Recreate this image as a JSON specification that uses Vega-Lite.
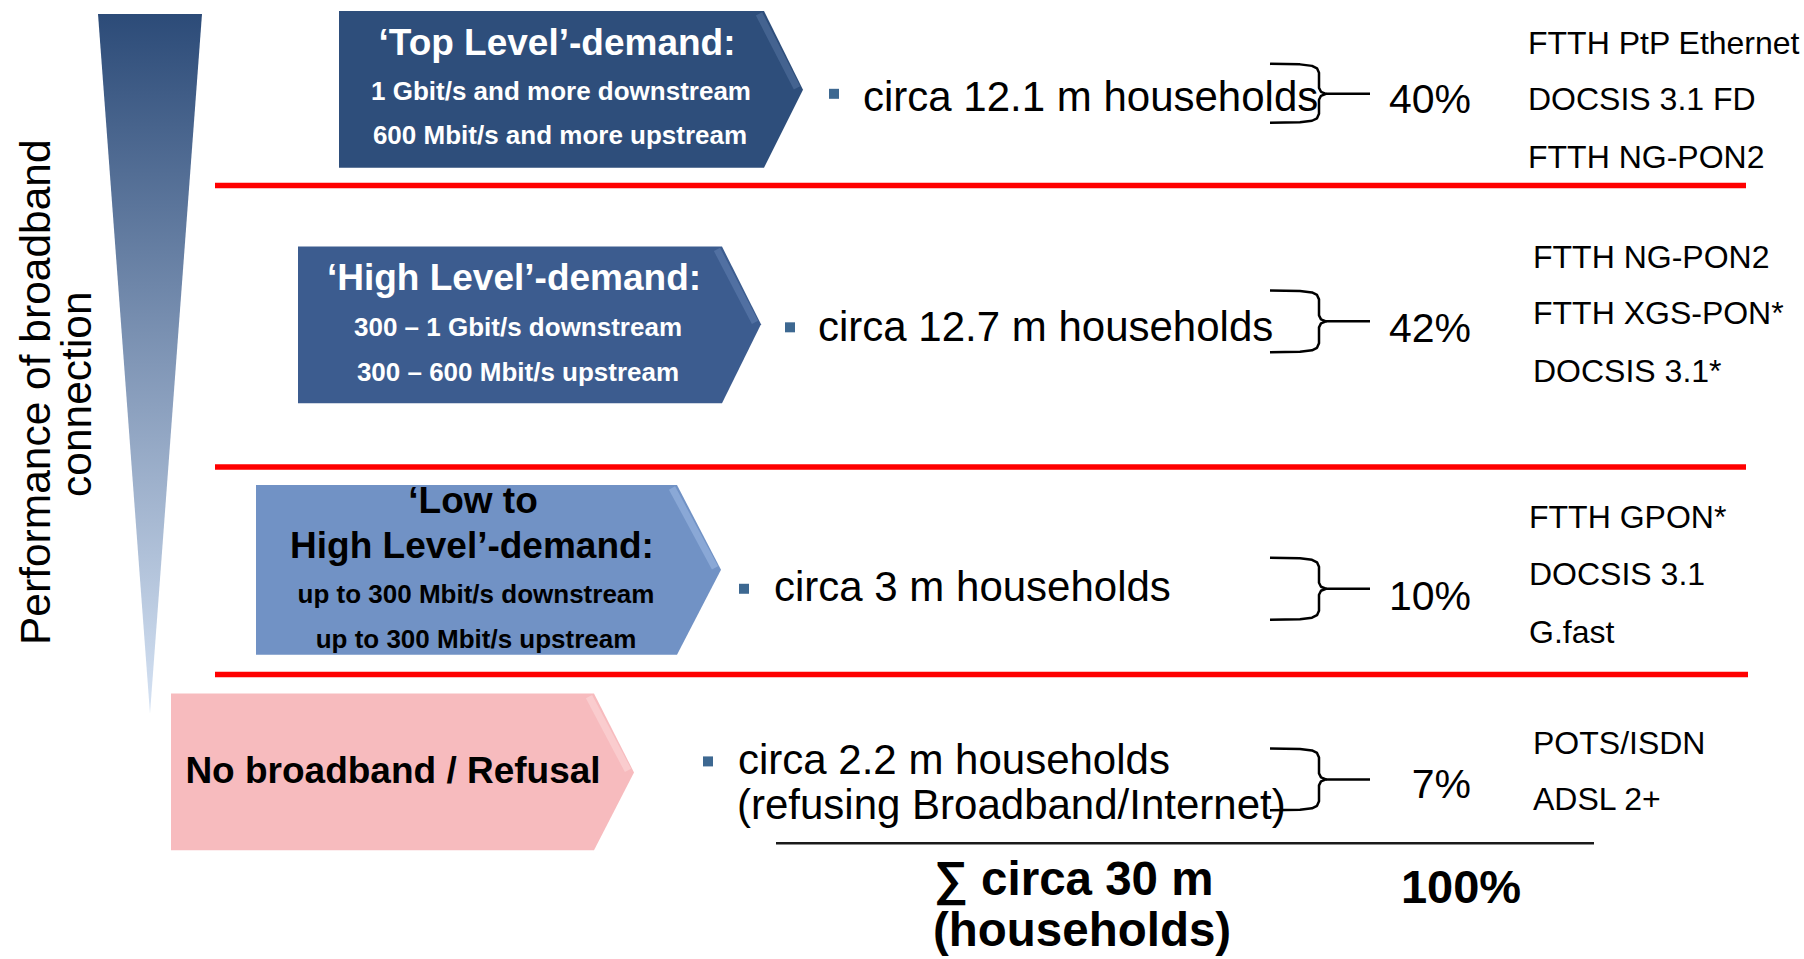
{
  "$schema": "https://vega.github.io/schema/vega-lite/v6.json",
  "width": 1804,
  "height": 959,
  "autosize": {"type": "fit", "contains": "padding"},
  "padding": 0,
  "background": "white",
  "config": {"view": {"stroke": null}, "text": {"font": "Liberation Sans"}},
  "datasets": {
    "wedge": [
      {"y": 12, "x": 98, "x2": 202},
      {"y": 713, "x": 150, "x2": 150}
    ],
    "arrows": [
      {"box": "top", "x": 339, "top": 9, "bottom": 166},
      {"box": "top", "x": 764, "top": 9, "bottom": 166},
      {"box": "top", "x": 803, "top": 88, "bottom": 88},
      {"box": "high", "x": 298, "top": 245, "bottom": 402},
      {"box": "high", "x": 722, "top": 245, "bottom": 402},
      {"box": "high", "x": 761, "top": 323, "bottom": 323},
      {"box": "low", "x": 256, "top": 484, "bottom": 654},
      {"box": "low", "x": 677, "top": 484, "bottom": 654},
      {"box": "low", "x": 721, "top": 569, "bottom": 569},
      {"box": "none", "x": 171, "top": 693, "bottom": 850},
      {"box": "none", "x": 594, "top": 693, "bottom": 850},
      {"box": "none", "x": 634, "top": 772, "bottom": 772}
    ],
    "sheen": [
      {"box": "top", "i": 0, "x": 759, "y": 12},
      {"box": "top", "i": 1, "x": 797, "y": 86},
      {"box": "high", "i": 0, "x": 717, "y": 248},
      {"box": "high", "i": 1, "x": 755, "y": 321},
      {"box": "low", "i": 0, "x": 672, "y": 487},
      {"box": "low", "i": 1, "x": 715, "y": 567},
      {"box": "none", "i": 0, "x": 589, "y": 696},
      {"box": "none", "i": 1, "x": 628, "y": 770}
    ],
    "separators": [
      {"kind": "red", "x": 215, "x2": 1746, "y": 184},
      {"kind": "red", "x": 215, "x2": 1746, "y": 466},
      {"kind": "red", "x": 215, "x2": 1748, "y": 674},
      {"kind": "sum", "x": 776, "x2": 1594, "y": 843},
      {"kind": "brace", "x": 1326, "x2": 1370, "y": 92},
      {"kind": "brace", "x": 1326, "x2": 1370, "y": 320},
      {"kind": "brace", "x": 1326, "x2": 1370, "y": 588},
      {"kind": "brace", "x": 1326, "x2": 1370, "y": 779}
    ],
    "braces": [
      {"b": 1, "i": 0, "x": 1270, "y": 62}, {"b": 1, "i": 1, "x": 1300, "y": 62.5}, {"b": 1, "i": 2, "x": 1312, "y": 64}, {"b": 1, "i": 3, "x": 1317, "y": 66.5}, {"b": 1, "i": 4, "x": 1319, "y": 71}, {"b": 1, "i": 5, "x": 1319, "y": 86}, {"b": 1, "i": 6, "x": 1321, "y": 90}, {"b": 1, "i": 7, "x": 1326, "y": 92}, {"b": 1, "i": 8, "x": 1321, "y": 94}, {"b": 1, "i": 9, "x": 1319, "y": 98}, {"b": 1, "i": 10, "x": 1319, "y": 112}, {"b": 1, "i": 11, "x": 1317, "y": 116.5}, {"b": 1, "i": 12, "x": 1312, "y": 119}, {"b": 1, "i": 13, "x": 1300, "y": 120.5}, {"b": 1, "i": 14, "x": 1270, "y": 121},
      {"b": 2, "i": 0, "x": 1270, "y": 289}, {"b": 2, "i": 1, "x": 1300, "y": 289.5}, {"b": 2, "i": 2, "x": 1312, "y": 291}, {"b": 2, "i": 3, "x": 1317, "y": 293.5}, {"b": 2, "i": 4, "x": 1319, "y": 298}, {"b": 2, "i": 5, "x": 1319, "y": 314}, {"b": 2, "i": 6, "x": 1321, "y": 318}, {"b": 2, "i": 7, "x": 1326, "y": 320}, {"b": 2, "i": 8, "x": 1321, "y": 322}, {"b": 2, "i": 9, "x": 1319, "y": 326}, {"b": 2, "i": 10, "x": 1319, "y": 342}, {"b": 2, "i": 11, "x": 1317, "y": 346.5}, {"b": 2, "i": 12, "x": 1312, "y": 349}, {"b": 2, "i": 13, "x": 1300, "y": 350.5}, {"b": 2, "i": 14, "x": 1270, "y": 351},
      {"b": 3, "i": 0, "x": 1270, "y": 557}, {"b": 3, "i": 1, "x": 1300, "y": 557.5}, {"b": 3, "i": 2, "x": 1312, "y": 559}, {"b": 3, "i": 3, "x": 1317, "y": 561.5}, {"b": 3, "i": 4, "x": 1319, "y": 566}, {"b": 3, "i": 5, "x": 1319, "y": 582}, {"b": 3, "i": 6, "x": 1321, "y": 586}, {"b": 3, "i": 7, "x": 1326, "y": 588}, {"b": 3, "i": 8, "x": 1321, "y": 590}, {"b": 3, "i": 9, "x": 1319, "y": 594}, {"b": 3, "i": 10, "x": 1319, "y": 610}, {"b": 3, "i": 11, "x": 1317, "y": 614.5}, {"b": 3, "i": 12, "x": 1312, "y": 617}, {"b": 3, "i": 13, "x": 1300, "y": 618.5}, {"b": 3, "i": 14, "x": 1270, "y": 619},
      {"b": 4, "i": 0, "x": 1270, "y": 748}, {"b": 4, "i": 1, "x": 1300, "y": 748.5}, {"b": 4, "i": 2, "x": 1312, "y": 750}, {"b": 4, "i": 3, "x": 1317, "y": 752.5}, {"b": 4, "i": 4, "x": 1319, "y": 757}, {"b": 4, "i": 5, "x": 1319, "y": 773}, {"b": 4, "i": 6, "x": 1321, "y": 777}, {"b": 4, "i": 7, "x": 1326, "y": 779}, {"b": 4, "i": 8, "x": 1321, "y": 781}, {"b": 4, "i": 9, "x": 1319, "y": 785}, {"b": 4, "i": 10, "x": 1319, "y": 801}, {"b": 4, "i": 11, "x": 1317, "y": 805.5}, {"b": 4, "i": 12, "x": 1312, "y": 808}, {"b": 4, "i": 13, "x": 1300, "y": 809.5}, {"b": 4, "i": 14, "x": 1270, "y": 810}
    ],
    "bullets": [
      {"x": 834, "y": 92},
      {"x": 790, "y": 326},
      {"x": 744, "y": 588},
      {"x": 708, "y": 761}
    ],
    "texts": [
      {"role": "titleW", "text": "‘Top Level’-demand:", "x": 557, "y": 53},
      {"role": "titleW", "text": "‘High Level’-demand:", "x": 514, "y": 289},
      {"role": "subW", "text": "1 Gbit/s and more downstream", "x": 561, "y": 98},
      {"role": "subW", "text": "600 Mbit/s and more upstream", "x": 560, "y": 142},
      {"role": "subW", "text": "300 – 1 Gbit/s downstream", "x": 518, "y": 335},
      {"role": "subW", "text": "300 – 600 Mbit/s upstream", "x": 518, "y": 380},
      {"role": "titleB", "text": "‘Low to", "x": 473, "y": 512},
      {"role": "titleB", "text": "High Level’-demand:", "x": 472, "y": 557},
      {"role": "titleB", "text": "No broadband / Refusal", "x": 393, "y": 783},
      {"role": "subB", "text": "up to 300 Mbit/s downstream", "x": 476, "y": 602},
      {"role": "subB", "text": "up to 300 Mbit/s upstream", "x": 476, "y": 647},
      {"role": "circa", "text": "circa 12.1 m households", "x": 863, "y": 109},
      {"role": "circa", "text": "circa 12.7 m households", "x": 818, "y": 340},
      {"role": "circa", "text": "circa 3 m households", "x": 774, "y": 600},
      {"role": "circa", "text": "circa 2.2 m households", "x": 738, "y": 774},
      {"role": "circa", "text": "(refusing Broadband/Internet)", "x": 737, "y": 819},
      {"role": "pct", "text": "40%", "x": 1471, "y": 111},
      {"role": "pct", "text": "42%", "x": 1471, "y": 341},
      {"role": "pct", "text": "10%", "x": 1471, "y": 609},
      {"role": "pct", "text": "7%", "x": 1471, "y": 798},
      {"role": "tech", "text": "FTTH PtP Ethernet", "x": 1528, "y": 52},
      {"role": "tech", "text": "DOCSIS 3.1 FD", "x": 1528, "y": 108},
      {"role": "tech", "text": "FTTH NG-PON2", "x": 1528, "y": 166},
      {"role": "tech", "text": "FTTH NG-PON2", "x": 1533, "y": 267},
      {"role": "tech", "text": "FTTH XGS-PON*", "x": 1533, "y": 323},
      {"role": "tech", "text": "DOCSIS 3.1*", "x": 1533, "y": 381},
      {"role": "tech", "text": "FTTH GPON*", "x": 1529, "y": 527},
      {"role": "tech", "text": "DOCSIS 3.1", "x": 1529, "y": 584},
      {"role": "tech", "text": "G.fast", "x": 1529, "y": 642},
      {"role": "tech", "text": "POTS/ISDN", "x": 1533, "y": 754},
      {"role": "tech", "text": "ADSL 2+", "x": 1533, "y": 810},
      {"role": "sum", "text": "∑ circa 30 m", "x": 934, "y": 895},
      {"role": "sum", "text": "(households)", "x": 933, "y": 946},
      {"role": "total", "text": "100%", "x": 1461, "y": 903},
      {"role": "side", "text": "Performance of broadband", "x": 50, "y": 391},
      {"role": "side", "text": "connection", "x": 91, "y": 393}
    ]
  },
  "layer": [
    {
      "data": {"name": "wedge"},
      "mark": {
        "type": "area",
        "orient": "horizontal",
        "fill": {
          "gradient": "linear",
          "x1": 0, "y1": 0, "x2": 0, "y2": 1,
          "stops": [
            {"offset": 0, "color": "#2C4B78"},
            {"offset": 0.5, "color": "#8197B7"},
            {"offset": 1, "color": "#D6E3F4"}
          ]
        }
      },
      "encoding": {
        "y": {"field": "y", "type": "quantitative", "scale": {"domain": [0, 959], "reverse": true, "nice": false, "zero": false}, "axis": null},
        "x": {"field": "x", "type": "quantitative", "scale": {"domain": [0, 1804], "nice": false, "zero": false}, "axis": null, "stack": null},
        "x2": {"field": "x2"}
      }
    },
    {
      "data": {"name": "arrows"},
      "mark": {"type": "area", "orient": "vertical"},
      "encoding": {
        "x": {"field": "x", "type": "quantitative", "scale": {"domain": [0, 1804], "nice": false, "zero": false}, "axis": null},
        "y": {"field": "top", "type": "quantitative", "scale": {"domain": [0, 959], "reverse": true, "nice": false, "zero": false}, "axis": null, "stack": null},
        "y2": {"field": "bottom"},
        "fill": {"field": "box", "type": "nominal", "scale": {"domain": ["top", "high", "low", "none"], "range": ["#2E4E7B", "#3C5C8F", "#7192C5", "#F7BBBE"]}, "legend": null},
        "detail": {"field": "box"}
      }
    },
    {
      "data": {"name": "sheen"},
      "mark": {"type": "line", "strokeWidth": 7, "opacity": 0.45, "strokeCap": "butt"},
      "encoding": {
        "x": {"field": "x", "type": "quantitative", "scale": {"domain": [0, 1804], "nice": false, "zero": false}, "axis": null},
        "y": {"field": "y", "type": "quantitative", "scale": {"domain": [0, 959], "reverse": true, "nice": false, "zero": false}, "axis": null},
        "order": {"field": "i"},
        "stroke": {"field": "box", "type": "nominal", "scale": {"domain": ["top", "high", "low", "none"], "range": ["#5F7EAA", "#6A89BA", "#A9C3EA", "#FDE2E3"]}, "legend": null},
        "detail": {"field": "box"}
      }
    },
    {
      "data": {"name": "separators"},
      "transform": [{"filter": "datum.kind === 'red'"}],
      "mark": {"type": "rule", "color": "#FF0000", "strokeWidth": 5.5},
      "encoding": {
        "x": {"field": "x", "type": "quantitative", "scale": {"domain": [0, 1804], "nice": false, "zero": false}, "axis": null},
        "x2": {"field": "x2"},
        "y": {"field": "y", "type": "quantitative", "scale": {"domain": [0, 959], "reverse": true, "nice": false, "zero": false}, "axis": null}
      }
    },
    {
      "data": {"name": "separators"},
      "transform": [{"filter": "datum.kind === 'sum'"}],
      "mark": {"type": "rule", "color": "#1A1A1A", "strokeWidth": 2.5},
      "encoding": {
        "x": {"field": "x", "type": "quantitative", "scale": {"domain": [0, 1804], "nice": false, "zero": false}, "axis": null},
        "x2": {"field": "x2"},
        "y": {"field": "y", "type": "quantitative", "scale": {"domain": [0, 959], "reverse": true, "nice": false, "zero": false}, "axis": null}
      }
    },
    {
      "data": {"name": "separators"},
      "transform": [{"filter": "datum.kind === 'brace'"}],
      "mark": {"type": "rule", "color": "#000000", "strokeWidth": 2.5},
      "encoding": {
        "x": {"field": "x", "type": "quantitative", "scale": {"domain": [0, 1804], "nice": false, "zero": false}, "axis": null},
        "x2": {"field": "x2"},
        "y": {"field": "y", "type": "quantitative", "scale": {"domain": [0, 959], "reverse": true, "nice": false, "zero": false}, "axis": null}
      }
    },
    {
      "data": {"name": "braces"},
      "mark": {"type": "line", "color": "#000000", "strokeWidth": 2.5, "strokeJoin": "round"},
      "encoding": {
        "x": {"field": "x", "type": "quantitative", "scale": {"domain": [0, 1804], "nice": false, "zero": false}, "axis": null},
        "y": {"field": "y", "type": "quantitative", "scale": {"domain": [0, 959], "reverse": true, "nice": false, "zero": false}, "axis": null},
        "order": {"field": "i"},
        "detail": {"field": "b"}
      }
    },
    {
      "data": {"name": "bullets"},
      "mark": {"type": "point", "shape": "square", "filled": true, "size": 100, "color": "#3D6891", "opacity": 1},
      "encoding": {
        "x": {"field": "x", "type": "quantitative", "scale": {"domain": [0, 1804], "nice": false, "zero": false}, "axis": null},
        "y": {"field": "y", "type": "quantitative", "scale": {"domain": [0, 959], "reverse": true, "nice": false, "zero": false}, "axis": null}
      }
    },
    {
      "data": {"name": "texts"},
      "transform": [{"filter": "datum.role === 'titleW'"}],
      "mark": {"type": "text", "align": "center", "baseline": "alphabetic", "fontSize": 37, "fontWeight": "bold", "color": "#FFFFFF", "font": "Liberation Sans"},
      "encoding": {
        "x": {"field": "x", "type": "quantitative", "scale": {"domain": [0, 1804], "nice": false, "zero": false}, "axis": null},
        "y": {"field": "y", "type": "quantitative", "scale": {"domain": [0, 959], "reverse": true, "nice": false, "zero": false}, "axis": null},
        "text": {"field": "text"}
      }
    },
    {
      "data": {"name": "texts"},
      "transform": [{"filter": "datum.role === 'subW'"}],
      "mark": {"type": "text", "align": "center", "baseline": "alphabetic", "fontSize": 26, "fontWeight": "bold", "color": "#FFFFFF", "font": "Liberation Sans"},
      "encoding": {
        "x": {"field": "x", "type": "quantitative", "scale": {"domain": [0, 1804], "nice": false, "zero": false}, "axis": null},
        "y": {"field": "y", "type": "quantitative", "scale": {"domain": [0, 959], "reverse": true, "nice": false, "zero": false}, "axis": null},
        "text": {"field": "text"}
      }
    },
    {
      "data": {"name": "texts"},
      "transform": [{"filter": "datum.role === 'titleB'"}],
      "mark": {"type": "text", "align": "center", "baseline": "alphabetic", "fontSize": 37, "fontWeight": "bold", "color": "#000000", "font": "Liberation Sans"},
      "encoding": {
        "x": {"field": "x", "type": "quantitative", "scale": {"domain": [0, 1804], "nice": false, "zero": false}, "axis": null},
        "y": {"field": "y", "type": "quantitative", "scale": {"domain": [0, 959], "reverse": true, "nice": false, "zero": false}, "axis": null},
        "text": {"field": "text"}
      }
    },
    {
      "data": {"name": "texts"},
      "transform": [{"filter": "datum.role === 'subB'"}],
      "mark": {"type": "text", "align": "center", "baseline": "alphabetic", "fontSize": 26, "fontWeight": "bold", "color": "#000000", "font": "Liberation Sans"},
      "encoding": {
        "x": {"field": "x", "type": "quantitative", "scale": {"domain": [0, 1804], "nice": false, "zero": false}, "axis": null},
        "y": {"field": "y", "type": "quantitative", "scale": {"domain": [0, 959], "reverse": true, "nice": false, "zero": false}, "axis": null},
        "text": {"field": "text"}
      }
    },
    {
      "data": {"name": "texts"},
      "transform": [{"filter": "datum.role === 'circa'"}],
      "mark": {"type": "text", "align": "left", "baseline": "alphabetic", "fontSize": 42, "color": "#000000", "font": "Liberation Sans"},
      "encoding": {
        "x": {"field": "x", "type": "quantitative", "scale": {"domain": [0, 1804], "nice": false, "zero": false}, "axis": null},
        "y": {"field": "y", "type": "quantitative", "scale": {"domain": [0, 959], "reverse": true, "nice": false, "zero": false}, "axis": null},
        "text": {"field": "text"}
      }
    },
    {
      "data": {"name": "texts"},
      "transform": [{"filter": "datum.role === 'pct'"}],
      "mark": {"type": "text", "align": "right", "baseline": "alphabetic", "fontSize": 41, "color": "#000000", "font": "Liberation Sans"},
      "encoding": {
        "x": {"field": "x", "type": "quantitative", "scale": {"domain": [0, 1804], "nice": false, "zero": false}, "axis": null},
        "y": {"field": "y", "type": "quantitative", "scale": {"domain": [0, 959], "reverse": true, "nice": false, "zero": false}, "axis": null},
        "text": {"field": "text"}
      }
    },
    {
      "data": {"name": "texts"},
      "transform": [{"filter": "datum.role === 'tech'"}],
      "mark": {"type": "text", "align": "left", "baseline": "alphabetic", "fontSize": 32, "color": "#000000", "font": "Liberation Sans"},
      "encoding": {
        "x": {"field": "x", "type": "quantitative", "scale": {"domain": [0, 1804], "nice": false, "zero": false}, "axis": null},
        "y": {"field": "y", "type": "quantitative", "scale": {"domain": [0, 959], "reverse": true, "nice": false, "zero": false}, "axis": null},
        "text": {"field": "text"}
      }
    },
    {
      "data": {"name": "texts"},
      "transform": [{"filter": "datum.role === 'sum'"}],
      "mark": {"type": "text", "align": "left", "baseline": "alphabetic", "fontSize": 47.5, "fontWeight": "bold", "color": "#000000", "font": "Liberation Sans"},
      "encoding": {
        "x": {"field": "x", "type": "quantitative", "scale": {"domain": [0, 1804], "nice": false, "zero": false}, "axis": null},
        "y": {"field": "y", "type": "quantitative", "scale": {"domain": [0, 959], "reverse": true, "nice": false, "zero": false}, "axis": null},
        "text": {"field": "text"}
      }
    },
    {
      "data": {"name": "texts"},
      "transform": [{"filter": "datum.role === 'total'"}],
      "mark": {"type": "text", "align": "center", "baseline": "alphabetic", "fontSize": 47, "fontWeight": "bold", "color": "#000000", "font": "Liberation Sans"},
      "encoding": {
        "x": {"field": "x", "type": "quantitative", "scale": {"domain": [0, 1804], "nice": false, "zero": false}, "axis": null},
        "y": {"field": "y", "type": "quantitative", "scale": {"domain": [0, 959], "reverse": true, "nice": false, "zero": false}, "axis": null},
        "text": {"field": "text"}
      }
    },
    {
      "data": {"name": "texts"},
      "transform": [{"filter": "datum.role === 'side'"}],
      "mark": {"type": "text", "align": "center", "baseline": "alphabetic", "angle": -90, "fontSize": 42.5, "color": "#000000", "font": "Liberation Sans"},
      "encoding": {
        "x": {"field": "x", "type": "quantitative", "scale": {"domain": [0, 1804], "nice": false, "zero": false}, "axis": null},
        "y": {"field": "y", "type": "quantitative", "scale": {"domain": [0, 959], "reverse": true, "nice": false, "zero": false}, "axis": null},
        "text": {"field": "text"}
      }
    }
  ]
}
